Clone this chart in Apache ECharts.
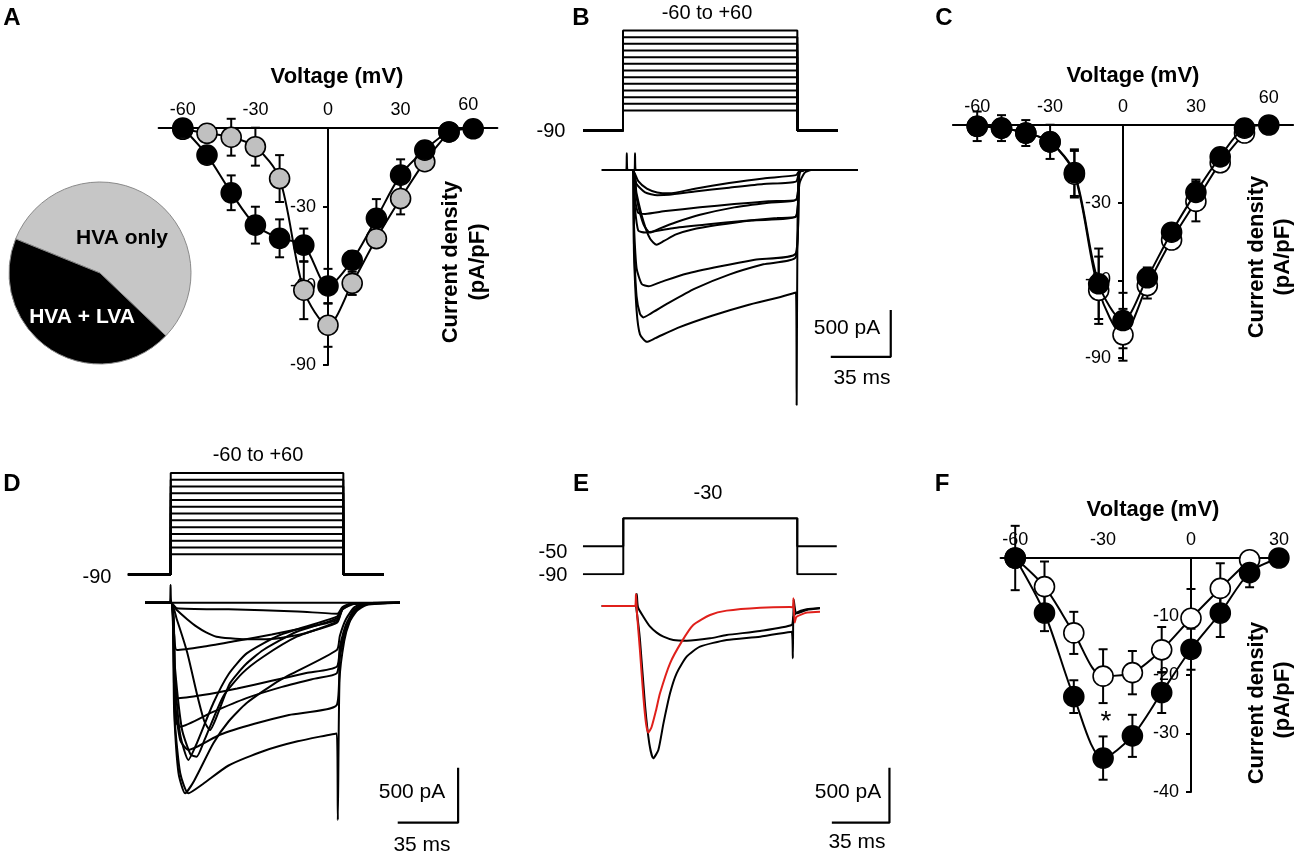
<!DOCTYPE html>
<html><head><meta charset="utf-8">
<script src="https://cdn.jsdelivr.net/npm/echarts@6/dist/echarts.min.js"></script>
<style>html,body{margin:0;padding:0;background:#fff}#c{width:1300px;height:857px}</style>
</head><body><div id="c"></div>
<script>
// ================= DATA =================
// Panel A pie
const pieNames = ['HVA only', 'HVA + LVA'];
const pieValues = [56, 44];
// Panel A I-V
const voltsA = [-60,-50,-40,-30,-20,-10,0,10,20,30,40,50,60];
const hvaLvaA = [0,-10.3,-24.6,-36.9,-41.9,-44.5,-60,-50.2,-34.3,-17.9,-8.4,-1.5,-0.3];
const hvaLvaErrA = [2,2,6.6,7,7.2,6.3,6.5,3.5,7.3,6,3,1,0.5];
const voltsA2 = [-60,-50,-40,-30,-20,-10,0,10,20,30,40,50];
const hvaOnlyA = [-0.5,-2,-3.5,-7.1,-19.2,-61.6,-74.9,-59,-42,-26.8,-12.8,-1.5];
const hvaOnlyErrA = [1,1.5,7,7.2,8.9,11,8.2,4.4,2,6,2,1];
// Panel C I-V
const voltsC = [-60,-50,-40,-30,-20,-10,0,10,20,30,40,50,60];
const filledC = [-0.5,-1.2,-3.1,-6.5,-18.4,-61.3,-75.5,-59,-41.4,-26,-12.3,-1.2,0];
const filledErrC = [5.7,5,5,6.6,9,13.6,10.7,4,2,4.9,2,1,0.5];
const voltsC2 = [-60,-50,-40,-30,-20,-10,0,10,20,30,40,50];
const openC = [-0.5,-1.2,-3.1,-6.5,-19,-63.8,-81,-62,-44.4,-29.5,-14.6,-3.1];
const openErrC = [1,1,1,1,9,13,10,5,3,7.7,2,1];
// Panel F I-V
const voltsF = [-60,-50,-40,-30,-20,-10,0,10,20,30];
const filledF = [0,-9.4,-23.7,-34.2,-30.4,-23,-15.6,-9.4,-2.5,0];
const filledErrF = [5.5,3.1,2.8,3.7,3.6,3.5,3.5,4.1,2.5,0.3];
const voltsF2 = [-60,-50,-40,-30,-20,-10,0,10,20];
const openF = [0,-4.9,-12.8,-20.2,-19.6,-15.7,-10.3,-5.2,-0.3];
const openErrF = [0.5,4.3,3.6,4.6,3.7,3.9,5,4.3,1];
const ivTicks = [-60,-30,0,30,60];
const ivTicksF = [-60,-30,0,30];

// Step protocols (mV), times in ms
const stepVolts = [-60,-50,-40,-30,-20,-10,0,10,20,30,40,50,60];
const holdB = -90, protB_t = [1.75, 25.1, 126.8, 150.5];
const holdD = -90, protD_t = [1.7, 26.5, 126.5, 150];
const protE_levels = ['-90','-50','-30'];
const protE_t = [1.8, 26.3, 132, 156];

// Panel B current traces [ms, pA]
const tracesB = [
  [[12.8,0],[27,0],[27.3,180],[27.7,0],[31.8,0],[32.1,180],[32.5,0],[126.5,0],[162,0]],
  [[12.8,0],[30.5,0],[34,-120],[39,-200],[45,-240],[52,-250],[67,-200],[87,-140],[107,-90],[126,-55],[128,-10],[131,0],[162,0]],
  [[12.8,0],[30.5,0],[33,-150],[38,-240],[45,-270],[52,-265],[67,-230],[87,-190],[107,-150],[126,-124],[128,-10],[131,0],[162,0]],
  [[12.8,0],[30.5,0],[32,-300],[34,-460],[38,-470],[50,-440],[70,-400],[90,-365],[110,-335],[126,-319],[128,-20],[131,0],[162,0]],
  [[12.8,0],[30.5,0],[33,-300],[37,-580],[40.8,-670],[46,-630],[56,-560],[70,-480],[90,-400],[110,-350],[126,-320],[128,-20],[131,0],[162,0]],
  [[12.8,0],[30.5,0],[32,-400],[34,-650],[38,-670],[55,-620],[75,-580],[95,-545],[115,-515],[126,-496],[128,-20],[131,0],[162,0]],
  [[12.8,0],[30.5,0],[33,-250],[37,-550],[41,-740],[44.7,-800],[49,-760],[56,-690],[65,-640],[80,-590],[100,-540],[126,-500],[128,-20],[131,0],[162,0]],
  [[12.8,0],[30.5,0],[31.5,-600],[33,-1050],[36,-1220],[40,-1245],[47,-1200],[62,-1110],[82,-1030],[102,-960],[126,-890],[128,-30],[131,0],[162,0]],
  [[12.8,0],[30.5,0],[31.5,-800],[33,-1350],[35,-1540],[37,-1578],[41,-1540],[52,-1420],[67,-1270],[87,-1120],[107,-1010],[126,-930],[128,-30],[131,0],[162,0]],
  [[12.8,0],[30.5,0],[31.5,-900],[33,-1500],[35,-1760],[39,-1840],[44,-1800],[57,-1690],[77,-1560],[97,-1450],[117,-1360],[126,-1312],[126.4,-2516],[126.9,-600],[128,-150],[131,-30],[135,0],[162,0]]
];
// Panel D current traces [ms, pA]
const tracesD = [
  [[11.6,0],[26,0],[26.4,160],[26.9,0],[123.5,0],[159.3,0]],
  [[11.6,0],[26.5,0],[30,-50],[60,-60],[100,-80],[123,-100],[126,-40],[132,-5],[159.3,0]],
  [[11.6,0],[26.5,0],[30,-67],[36,-150],[41.5,-218],[47,-270],[53,-309],[61,-324],[70,-333],[80,-333],[90,-320],[100,-294],[110,-250],[123,-180],[126,-60],[132,-10],[159.3,0]],
  [[11.6,0],[26.5,0],[28.5,-300],[30,-430],[45,-400],[65,-345],[85,-290],[105,-225],[122.7,-158],[126,-60],[133,-10],[159.3,0]],
  [[11.6,0],[26.5,0],[28.5,-650],[30,-870],[45,-840],[65,-780],[85,-710],[105,-640],[122.7,-582],[124.5,-400],[128,-200],[133,-60],[140,-10],[159.3,0]],
  [[11.6,0],[26.5,0],[28.5,-800],[30,-1100],[32,-1127],[50,-1000],[70,-870],[90,-770],[110,-690],[122.7,-642],[124.5,-450],[128,-220],[133,-70],[140,-10],[159.3,0]],
  [[11.6,0],[26.5,0],[29,-900],[32,-1250],[36.7,-1339],[55,-1200],[75,-1100],[95,-1020],[122.7,-930],[124.5,-500],[128,-250],[133,-80],[140,-15],[159.3,0]],
  [[11.6,0],[26.5,0],[29,-1100],[32,-1550],[36.7,-1733],[45,-1650],[60,-1480],[80,-1350],[100,-1260],[122.7,-1188],[123.3,-1976],[124.3,-700],[127,-350],[130,-180],[134,-80],[140,-20],[159.3,0]],
  [[11.6,0],[26.5,0],[30,-150],[36,-450],[42,-850],[46,-1080],[49.2,-1158],[54,-1000],[60.8,-733],[70,-560],[80.1,-430],[99.5,-264],[122.7,-142],[126,-50],[132,-5],[159.3,0]],
  [[11.6,0],[26.5,0],[29,-700],[32,-1200],[36.7,-1430],[41,-1300],[51.2,-912],[60,-650],[70.5,-461],[89.8,-294],[122.7,-127],[126,-50],[132,-5],[159.3,0]],
  [[11.6,0],[26.5,0],[29,-600],[33,-1150],[38,-1380],[41.5,-1400],[46,-1250],[56.9,-852],[68,-640],[80.1,-491],[99.5,-309],[122.7,-173],[126,-60],[132,-5],[159.3,0]],
  [[11.6,0],[26.5,0],[28.5,-1000],[31,-1550],[34.8,-1733],[40,-1620],[51.2,-1278],[60,-1080],[70.5,-912],[89.8,-703],[122.7,-430],[124.5,-300],[128,-150],[133,-40],[140,-5],[159.3,0]]
];
// Panel E current traces [ms, pA]
const traceE_redPts = [[13.2,0],[33.5,0],[34,110],[34.6,-60],[36.4,-400],[38.5,-824],[40.1,-1067],[41.5,-1152],[43.5,-1100],[46,-960],[48.6,-794],[54.7,-521],[61.8,-324],[68.8,-173],[79,-82],[89.1,-42],[109.4,-15],[127.6,-9],[129.3,-12],[129.7,70],[130.4,-150],[131.6,-97],[138,-60],[145.8,-52]];
const traceE_bigPts = [[13.2,0],[33.8,0],[34.3,-30],[36.4,-300],[39.5,-900],[42.1,-1250],[44.5,-1385],[47.6,-1309],[50.7,-1067],[54.7,-794],[58.7,-612],[64.8,-461],[72.9,-370],[89.1,-309],[109.4,-279],[128.6,-233],[129.3,-476],[129.8,60],[131.6,-67],[137.7,-36],[145.8,-21]];
const traceE_slowPts = [[13.2,0],[34,0],[34.5,110],[35.2,-10],[38.5,-97],[42.6,-188],[46.6,-242],[50.7,-279],[56.7,-309],[64.8,-315],[79,-294],[89.1,-264],[109.4,-227],[128.6,-173],[129.6,-100],[131.6,-60],[137.7,-30],[145.8,-18]];

// Scale bars: 35 ms, 500 pA, anchored at [ms, pA]
const scaleMs = 35, scalePa = 500;
const scaleB = [146.3, -2000], scaleD = [158, -2000], scaleE = [153, -1970];

// ================= BUILD =================
const FONT = '"Liberation Sans", Arial, Helvetica, sans-serif';
const grids = [], xAxes = [], yAxes = [], series = [];
function box(x0, y0, kx, ky, xmin, xmax, ymin, ymax) {
  return {left: x0 + xmin * kx, top: y0 - ymax * ky, width: (xmax - xmin) * kx, height: (ymax - ymin) * ky};
}
function addGrid(b, xa, ya) {
  const i = grids.length;
  grids.push(Object.assign({containLabel: false}, b));
  xAxes.push(Object.assign({gridIndex: i}, xa));
  yAxes.push(Object.assign({gridIndex: i}, ya));
  return i;
}
const hidden = (min, max) => ({type: 'value', min, max, show: false});

function ivAxes(x0, y0, kx, ky, xmin, xmax, ymin, ymax, yint, ticks, hiPad) {
  return addGrid(box(x0, y0, kx, ky, xmin, xmax, ymin, ymax),
    {type: 'value', min: xmin, max: xmax, position: 'top',
     axisLine: {onZero: false, lineStyle: {color: '#000', width: 2}},
     axisTick: {show: false}, splitLine: {show: false},
     axisLabel: {customValues: ticks, fontSize: 18, color: '#000', fontFamily: FONT, margin: 9,
       formatter: v => (v === 60 && hiPad) ? '{hi|60}' : String(v),
       rich: {hi: {fontSize: 18, fontFamily: FONT, color: '#000', padding: hiPad || [0,0,0,0]}}}},
    {type: 'value', min: ymin, max: ymax, interval: yint, position: 'left',
     offset: xmin * kx,   // moves the whole y axis (line, ticks, labels) to x = 0
     axisLine: {onZero: false, lineStyle: {color: '#000', width: 2}},
     axisTick: {show: true, length: 5, lineStyle: {color: '#000', width: 2}},
     splitLine: {show: false},
     axisLabel: {fontSize: 18, color: '#000', fontFamily: FONT, margin: 12,
       formatter: v => v === 0 ? '' : String(v)}});
}
function ivLine(gi, xs, ys, fill, z) {
  series.push({type: 'line', xAxisIndex: gi, yAxisIndex: gi, z: z, clip: false, silent: true,
    data: xs.map((x, i) => [x, ys[i]]), smooth: 0.3,
    symbol: 'circle', symbolSize: 20, showAllSymbol: true,
    lineStyle: {color: '#000', width: 2},
    itemStyle: {color: fill, borderColor: '#000', borderWidth: 1.6}});
}
function errBars(gi, xs, ys, es, z) {
  series.push({type: 'custom', xAxisIndex: gi, yAxisIndex: gi, z: z, silent: true, clip: false,
    data: xs.map((x, i) => [x, ys[i] - es[i], ys[i] + es[i]]),
    renderItem: (p, api) => {
      const lo = api.coord([api.value(0), api.value(1)]);
      const hi = api.coord([api.value(0), api.value(2)]);
      const w = 4.5, st = {stroke: '#000', lineWidth: 2};
      return {type: 'group', children: [
        {type: 'line', shape: {x1: lo[0], y1: lo[1], x2: hi[0], y2: hi[1]}, style: st},
        {type: 'line', shape: {x1: lo[0] - w, y1: lo[1], x2: lo[0] + w, y2: lo[1]}, style: st},
        {type: 'line', shape: {x1: hi[0] - w, y1: hi[1], x2: hi[0] + w, y2: hi[1]}, style: st}]};
    }});
}
function trace(gi, data, color, w, smooth) {
  series.push({type: 'line', xAxisIndex: gi, yAxisIndex: gi, data, symbol: 'none', silent: true, clip: false,
    lineStyle: {color: color || '#000', width: w || 2}, smooth: smooth === undefined ? 0.2 : smooth, z: 2});
}
function scaleBar(gi, a) {
  trace(gi, [[a[0], a[1]], [a[0] + scaleMs, a[1]], [a[0] + scaleMs, a[1] + scalePa]], '#000', 2.2, false);
}

// ---- Panel A I-V ----
const gA = ivAxes(328, 128, 2.42, 2.633, -70, 70, -90, 0, 30, ivTicks, [0, 10, 5, 0]);
errBars(gA, voltsA2, hvaOnlyA, hvaOnlyErrA, 1);
errBars(gA, voltsA, hvaLvaA, hvaLvaErrA, 1);
ivLine(gA, voltsA2, hvaOnlyA, '#c0c0c0', 3);
ivLine(gA, voltsA, hvaLvaA, '#000', 4);
// ---- Panel C I-V ----
const gC = ivAxes(1123, 125, 2.43, 2.59, -70, 70, -90, 0, 30, ivTicks, [0, 0, 9, 0]);
errBars(gC, voltsC2, openC, openErrC, 1);
errBars(gC, voltsC, filledC, filledErrC, 1);
ivLine(gC, voltsC2, openC, '#fff', 3);
ivLine(gC, voltsC, filledC, '#000', 4);
// ---- Panel F I-V ----
const gF = ivAxes(1191, 558, 2.93, 5.85, -65, 33, -40, 0, 10, ivTicksF, null);
errBars(gF, voltsF2, openF, openErrF, 1);
errBars(gF, voltsF, filledF, filledErrF, 1);
ivLine(gF, voltsF2, openF, '#fff', 3);
ivLine(gF, voltsF, filledF, '#000', 4);

// ---- Panel B ----
const gBp = addGrid(box(580, 70.5, 1.714, 0.6667, 0, 200, -100, 70), hidden(0, 200), hidden(-100, 70));
stepVolts.forEach(v => trace(gBp, [[protB_t[0], holdB], [protB_t[1], holdB], [protB_t[1], v], [protB_t[2], v], [protB_t[2], holdB], [protB_t[3], holdB]], '#000', 2, false));
const gBc = addGrid(box(580, 170, 1.714, 0.0934, 0, 200, -2600, 300), hidden(0, 200), hidden(-2600, 300));
tracesB.forEach(d => trace(gBc, d, '#000', 2));
scaleBar(gBc, scaleB);

// ---- Panel D ----
const gDp = addGrid(box(125, 513.6, 1.726, 0.6767, 0, 200, -100, 70), hidden(0, 200), hidden(-100, 70));
stepVolts.forEach(v => trace(gDp, [[protD_t[0], holdD], [protD_t[1], holdD], [protD_t[1], v], [protD_t[2], v], [protD_t[2], holdD], [protD_t[3], holdD]], '#000', 2, false));
const gDc = addGrid(box(125, 602.7, 1.726, 0.11, 0, 200, -2100, 300), hidden(0, 200), hidden(-2100, 300));
tracesD.forEach(d => trace(gDc, d, '#000', 2));
scaleBar(gDc, scaleD);

// ---- Panel E ----
const gEp = addGrid({left: 580, top: 518.3, width: 200 * 1.646, height: 56},
  hidden(0, 200), {type: 'category', data: protE_levels, boundaryGap: false, show: false});
['-90', '-50'].forEach(h => trace(gEp, [[protE_t[0], h], [protE_t[1], h], [protE_t[1], '-30'], [protE_t[2], '-30'], [protE_t[2], h], [protE_t[3], h]], '#000', 2, false));
const gEc = addGrid(box(580, 606, 1.646, 0.11, 0, 200, -2100, 300), hidden(0, 200), hidden(-2100, 300));
trace(gEc, traceE_slowPts, '#000', 2);
trace(gEc, traceE_bigPts, '#000', 2);
trace(gEc, traceE_redPts, '#e0201b', 2);
scaleBar(gEc, scaleE);

// ---- Pie (A) ----
series.push({type: 'pie', center: [100, 273], radius: 91, startAngle: 158, clockwise: true, silent: true,
  label: {show: false}, labelLine: {show: false},
  itemStyle: {borderColor: '#8a8a8a', borderWidth: 1},
  data: pieNames.map((n, i) => ({name: n, value: pieValues[i], itemStyle: {color: i === 0 ? '#c6c6c6' : '#000'}}))});

// ---- Texts ----
function txt(s, x, y, o) {
  o = o || {};
  return {type: 'text', x, y, rotation: o.rot || 0, z: 100, silent: true,
    style: {text: s, fill: o.fill || '#000', fontSize: o.size || 20, fontWeight: o.bold ? 'bold' : 'normal',
      fontFamily: FONT, align: o.align || 'center', verticalAlign: 'middle'}};
}
const R = Math.PI / 2;
const graphic = [
  txt('A', 12, 18, {bold: true, size: 24}), txt('B', 581, 18, {bold: true, size: 24}), txt('C', 944, 18, {bold: true, size: 24}),
  txt('D', 12, 484, {bold: true, size: 24}), txt('E', 581, 484, {bold: true, size: 24}), txt('F', 942, 484, {bold: true, size: 24}),
  txt(pieNames[0], 122, 238, {bold: true, size: 21}),
  txt(pieNames[1], 82, 317, {bold: true, size: 21, fill: '#fff'}),
  txt('Voltage (mV)', 337, 77, {bold: true, size: 22}),
  txt('Voltage (mV)', 1133, 76, {bold: true, size: 22}),
  txt('Voltage (mV)', 1153, 510, {bold: true, size: 22}),
  txt('Current density', 451, 262, {bold: true, size: 22, rot: R}), txt('(pA/pF)', 478, 262, {bold: true, size: 22, rot: R}),
  txt('Current density', 1257, 257, {bold: true, size: 22, rot: R}), txt('(pA/pF)', 1283, 257, {bold: true, size: 22, rot: R}),
  txt('Current density', 1257, 703, {bold: true, size: 22, rot: R}), txt('(pA/pF)', 1283, 700, {bold: true, size: 22, rot: R}),
  txt('*', 1106, 722, {size: 28}),
  txt('-60 to +60', 707, 13), txt('-90', 551, 131),
  txt('-60 to +60', 258, 455), txt('-90', 97, 577),
  txt('-30', 708, 493), txt('-50', 553, 552), txt('-90', 553, 575),
  txt('500 pA', 847, 328, {size: 21}), txt('35 ms', 862, 378, {size: 21}),
  txt('500 pA', 412, 792, {size: 21}), txt('35 ms', 422, 845, {size: 21}),
  txt('500 pA', 848, 792, {size: 21}), txt('35 ms', 857, 842, {size: 21})
];

const chart = echarts.init(document.getElementById('c'), null, {renderer: 'canvas', width: 1300, height: 857});
chart.setOption({backgroundColor: '#fff', animation: false, grid: grids, xAxis: xAxes, yAxis: yAxes, series, graphic});
</script></body></html>
